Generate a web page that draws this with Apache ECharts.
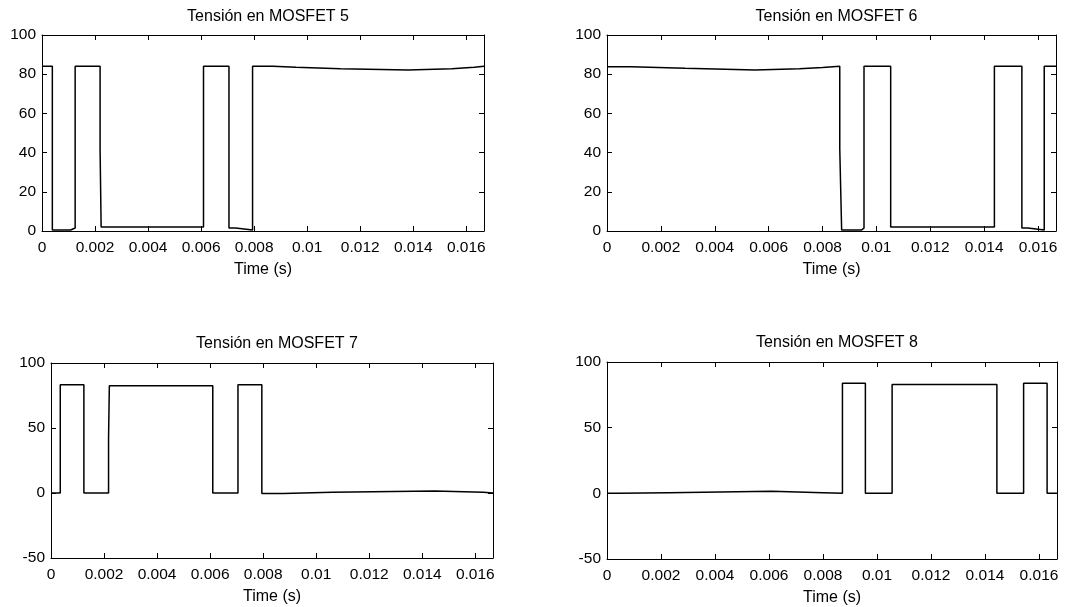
<!DOCTYPE html>
<html>
<head>
<meta charset="utf-8">
<script src="https://cdn.jsdelivr.net/npm/echarts@6/dist/echarts.min.js"></script>
<style>
html,body{margin:0;padding:0;background:#fff;}
#c{width:1088px;height:607px;}
</style>
</head>
<body>
<div id="c"></div>
<script>
// ---- data (breakpoints of step waveforms: value holds from t until next t) ----
const titles = ['Tensión en MOSFET 5','Tensión en MOSFET 6','Tensión en MOSFET 7','Tensión en MOSFET 8'];
const xName = 'Time (s)';
const tEnd = 1/60;

const t5 = [0, 0.00039, 0.00108, 0.00125, 0.00219, 0.00223, 0.00609, 0.00705, 0.0073, 0.00794, 0.00871, 0.00958, 0.01126, 0.01381, 0.01545, 0.0163, tEnd];
const v5 = [84, 0.5, 1.5, 84, 42, 2, 84, 1.5, 0.5, 84, 83.5, 82.8, 82.2, 82.8, 83.5, 84, 84];

const t6 = [0, 0.00089, 0.0029, 0.0055, 0.00714, 0.0080, 0.00864, 0.00871, 0.00944, 0.00954, 0.01053, 0.01438, 0.0154, 0.01562, 0.01623, tEnd];
const v6 = [83.8, 83.0, 82.2, 82.8, 83.4, 84, 42, 0.5, 1.5, 84, 2, 84, 1.5, 0.5, 84, 84];

const t7 = [0, 0.00035, 0.00124, 0.00217, 0.0022, 0.0061, 0.00705, 0.00795, 0.00875, 0.0106, 0.01446, 0.0163, tEnd];
const v7 = [0, 83.3, 0, 42, 82.5, 0, 83.3, -0.3, 0.5, 1.5, 0.5, 0, 0];

const t8 = [0, 0.00042, 0.00227, 0.0061, 0.008, 0.00872, 0.00957, 0.01056, 0.01444, 0.01543, 0.0163, tEnd];
const v8 = [0, 0.5, 1.5, 0.5, 0, 83.8, 0, 82.8, 0, 83.8, 0, 0];

// ---- layout ----
const grids = [
  {left:42, top:35, width:442, height:196, titleY:17},
  {left:607, top:35, width:449, height:196, titleY:17},
  {left:51, top:363, width:442, height:195, titleY:344},
  {left:607, top:362, width:450, height:198, titleY:343}
];
const yCfg = [
  {min:0, max:100, interval:20},
  {min:0, max:100, interval:20},
  {min:-50, max:100, interval:50},
  {min:-50, max:100, interval:50}
];
const series = [[t5,v5],[t6,v6],[t7,v7],[t8,v8]];

// turn breakpoints into explicit step polyline points
function stepPoints(t, v) {
  const pts = [[t[0], v[0]]];
  for (let k = 1; k < t.length; k++) {
    pts.push([t[k], v[k-1]]);
    pts.push([t[k], v[k]]);
  }
  return pts;
}

const FONT = 'Liberation Sans';
const fmtX = v => {
  const r = Math.round(v*1000);
  if (Math.abs(v*1000 - r) > 1e-6 || r % 2 !== 0) return '';
  if (r === 0) return '0';
  return String(+(r/1000).toFixed(3));
};

const option = {
  backgroundColor:'#fff',
  animation:false,
  title: [],
  grid: [],
  xAxis: [],
  yAxis: [],
  series: []
};

grids.forEach((g, i) => {
  option.grid.push({left:g.left, top:g.top, width:g.width, height:g.height, show:false, containLabel:false});
  option.title.push({
    text: titles[i],
    left: g.left + g.width/2,
    top: g.titleY - 13,
    textAlign: 'center',
    textStyle: {fontFamily: FONT, fontSize: 16, fontWeight: 'normal', color: '#000'}
  });
  const common = {
    gridIndex: i, type: 'value', min: 0, max: tEnd, interval: 0.002,
    splitLine: {show:false},
    axisLine: {show:true, onZero:false, lineStyle:{color:'#000', width:1}},
    axisTick: {show:true, inside:true, length:5, lineStyle:{color:'#000'}},
  };
  option.xAxis.push(Object.assign({}, common, {
    position:'bottom',
    name: xName, nameLocation:'middle', nameGap: 31,
    nameTextStyle: {fontFamily: FONT, fontSize: 16, color:'#000'},
    axisLabel: {show:true, formatter: fmtX, margin: 9, fontFamily: FONT, fontSize: 15.5, color:'#000', showMaxLabel:false}
  }));
  option.xAxis.push(Object.assign({}, common, {
    position:'top', axisLabel:{show:false}
  }));
  const yc = yCfg[i];
  const ycommon = {
    gridIndex: i, type:'value', min: yc.min, max: yc.max, interval: yc.interval,
    splitLine: {show:false},
    axisLine: {show:true, onZero:false, lineStyle:{color:'#000', width:1}},
    axisTick: {show:true, inside:true, length:5, lineStyle:{color:'#000'}}
  };
  option.yAxis.push(Object.assign({}, ycommon, {
    position:'left',
    axisLabel: {show:true, margin: 6, fontFamily: FONT, fontSize: 15.5, color:'#000'}
  }));
  option.yAxis.push(Object.assign({}, ycommon, {
    position:'right', axisLabel:{show:false}
  }));
  const [t, v] = series[i];
  option.series.push({
    type:'line',
    xAxisIndex: i*2, yAxisIndex: i*2,
    data: stepPoints(t, v),
    showSymbol: false,
    symbol: 'none',
    sampling: null,
    lineStyle: {color:'#000', width:1.5},
    silent: true
  });
});

const chart = echarts.init(document.getElementById('c'), null, {renderer:'canvas'});
chart.setOption(option);
</script>
</body>
</html>
